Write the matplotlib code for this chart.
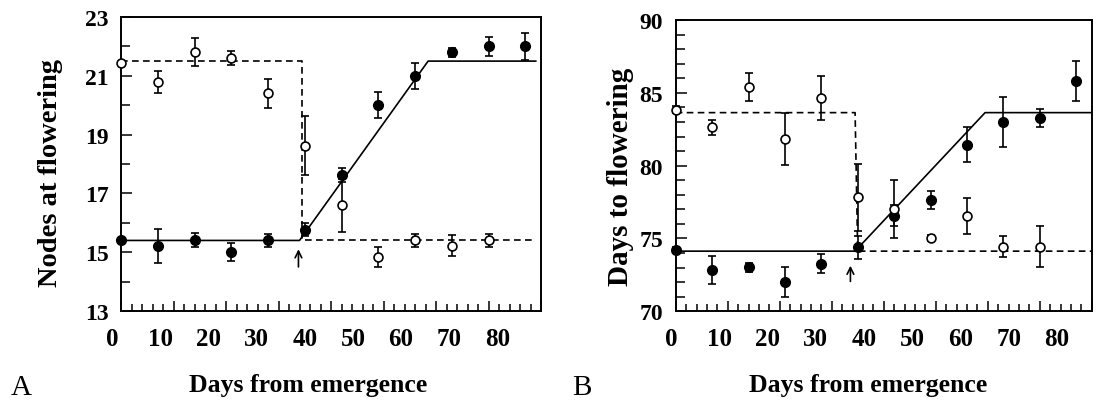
import matplotlib
matplotlib.use("Agg")
import matplotlib.pyplot as plt
from matplotlib.ticker import MultipleLocator, FixedLocator, NullFormatter

# ---- data -------------------------------------------------------------
# Panel A: nodes at flowering
nodes_filled_x = [0, 7, 14, 21, 28, 35, 42, 49, 56, 63, 70, 77]
nodes_filled = [15.4, 15.2, 15.4, 15.0, 15.4, 15.77, 17.64, 20.0, 21.0, 21.8, 22.0, 22.0]
nodes_filled_err = [0.0, 0.58, 0.24, 0.3, 0.22, 0.22, 0.24, 0.45, 0.45, 0.15, 0.32, 0.45]
nodes_open_x = [0, 7, 14, 21, 28, 35, 42, 49, 56, 63, 70]
nodes_open = [21.45, 20.8, 21.8, 21.6, 20.4, 18.62, 16.6, 14.83, 15.41, 15.22, 15.41]
nodes_open_err = [0.0, 0.38, 0.48, 0.23, 0.5, 1.0, 0.9, 0.35, 0.22, 0.36, 0.22]
nodes_fit_solid_x = [0, 34, 58.5, 79]
nodes_fit_solid_y = [15.4, 15.4, 21.5, 21.5]
nodes_fit_dash_x = [0, 34.4, 34.4, 79]
nodes_fit_dash_y = [21.5, 21.5, 15.4, 15.4]
nodes_arrow = (33.8, 14.5, 15.1)
nodes_yticks = [13, 15, 17, 19, 21, 23]

# Panel B: days to flowering
dtf_filled_x = [0, 7, 14, 21, 28, 35, 42, 49, 56, 63, 70, 77]
dtf_filled = [74.23, 72.84, 73.03, 72.0, 73.25, 74.4, 76.57, 77.65, 81.42, 83.02, 83.27, 85.81]
dtf_filled_err = [0.2, 0.97, 0.3, 1.05, 0.65, 0.8, 0.7, 0.63, 1.2, 1.72, 0.63, 1.37]
dtf_open_x = [0, 7, 14, 21, 28, 35, 42, 49, 56, 63, 70]
dtf_open = [83.84, 82.63, 85.42, 81.83, 84.63, 77.83, 77.03, 75.05, 76.53, 74.44, 74.44]
dtf_open_err = [0.25, 0.5, 0.96, 1.76, 1.5, 2.3, 2.0, 0.2, 1.25, 0.74, 1.4]
dtf_fit_solid_x = [0, 34.5, 59.5, 80]
dtf_fit_solid_y = [74.13, 74.13, 83.64, 83.64]
dtf_fit_dash_x = [0, 34.5, 35, 80]
dtf_fit_dash_y = [83.64, 83.64, 74.13, 74.13]
dtf_arrow = (33.6, 72.05, 73.13)
dtf_yticks = [70, 75, 80, 85, 90]

xtick_labels = ["0", "10", "20", "30", "40", "50", "60", "70", "80"]

# ---- style ------------------------------------------------------------
plt.rcParams["font.family"] = ["Liberation Serif", "DejaVu Serif"]
W, H = 1109, 402
fig = plt.figure(figsize=(W / 100, H / 100), dpi=100)

LW = 1.2
MS = 7.0


def px(x, y):
    """Pixel position (from top-left) to figure fraction."""
    return x / W, 1 - y / H


def panel(rect, ylim, yticks, fx, fy, fe, ox, oy, oe, sx, sy, dx, dy, arrow,
          lab0, labstep):
    ax = fig.add_axes(rect)
    ax.set_xlim(0, 80)
    ax.set_ylim(*ylim)
    for s in ax.spines.values():
        s.set_linewidth(1.4)
    ax.plot(sx, sy, color="black", lw=LW, zorder=2)
    ax.plot(dx, dy, color="black", lw=LW, dashes=(4.0, 2.6), zorder=2)
    ax.errorbar(fx, fy, yerr=fe, fmt="o", color="black", mfc="black",
                mec="black", ms=MS, elinewidth=LW, capsize=3.0,
                capthick=LW, zorder=4, clip_on=False)
    ax.errorbar(ox, oy, yerr=oe, fmt="o", color="black", mfc="white",
                mec="black", mew=1.2, ms=MS - 0.6, elinewidth=LW, capsize=3.0,
                capthick=LW, zorder=4, clip_on=False)
    ax.annotate("", xy=(arrow[0], arrow[2]), xytext=(arrow[0], arrow[1]),
                arrowprops=dict(arrowstyle="->", lw=1.2, color="black",
                                mutation_scale=12, shrinkA=0, shrinkB=0))

    ax.xaxis.set_major_locator(MultipleLocator(10))
    ax.xaxis.set_minor_locator(MultipleLocator(2))
    ax.yaxis.set_major_locator(FixedLocator(yticks))
    ax.yaxis.set_minor_locator(MultipleLocator(1))
    ax.tick_params(which="both", direction="in", top=False, right=False,
                   width=1.1, colors="black")
    ax.tick_params(axis="x", which="major", length=7.2)
    ax.tick_params(axis="x", which="minor", length=5.0)
    ax.tick_params(axis="y", which="major", length=8.0, pad=9)
    ax.tick_params(axis="y", which="minor", length=6.3)
    ax.xaxis.set_major_formatter(NullFormatter())
    ax.set_yticklabels([str(v) for v in yticks], fontsize=17,
                       fontweight="bold")

    # x tick labels set on their own row beneath the axis
    for i, t in enumerate(xtick_labels):
        ax.text(lab0 + labstep * i, -0.093, t, transform=ax.transAxes,
                ha="center", va="center", fontsize=18, fontweight="bold")
    return ax


# panel A
l, b = px(121, 312)
r, t = px(541, 18)
axA = panel([l, b, r - l, t - b], (13, 23), nodes_yticks,
            nodes_filled_x, nodes_filled, nodes_filled_err,
            nodes_open_x, nodes_open, nodes_open_err,
            nodes_fit_solid_x, nodes_fit_solid_y,
            nodes_fit_dash_x, nodes_fit_dash_y, nodes_arrow,
            (112.5 - 121) / 420, 48.1 / 420)

# panel B
l, b = px(675.7, 312.3)
r, t = px(1091.7, 21)
axB = panel([l, b, r - l, t - b], (70, 90), dtf_yticks,
            dtf_filled_x, dtf_filled, dtf_filled_err,
            dtf_open_x, dtf_open, dtf_open_err,
            dtf_fit_solid_x, dtf_fit_solid_y,
            dtf_fit_dash_x, dtf_fit_dash_y, dtf_arrow,
            (671 - 675.7) / 416, 48.25 / 416)

# axis titles and panel letters
fig.text(*px(51, 173), "Nodes at flowering", rotation=90, ha="center",
         va="center", fontsize=20.5, fontweight="bold")
fig.text(*px(620, 177), "Days to flowering", rotation=90, ha="center",
         va="center", fontsize=21, fontweight="bold")
fig.text(*px(308, 386), "Days from emergence", ha="center", va="center",
         fontsize=18.5, fontweight="bold")
fig.text(*px(868, 386), "Days from emergence", ha="center", va="center",
         fontsize=18.5, fontweight="bold")
fig.text(*px(21, 388), "A", ha="center", va="center", fontsize=21)
fig.text(*px(582, 388), "B", ha="center", va="center", fontsize=21)

fig.savefig("out.png", dpi=100)
